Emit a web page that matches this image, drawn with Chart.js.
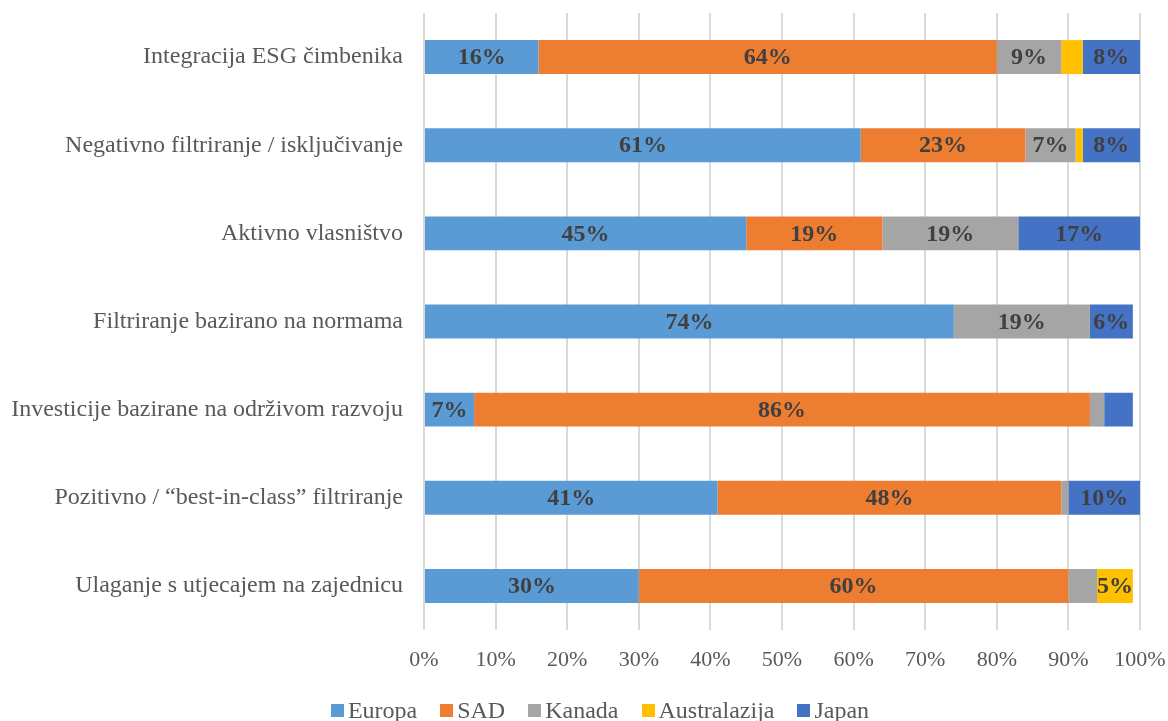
<!DOCTYPE html>
<html>
<head>
<meta charset="utf-8">
<script src="https://cdn.jsdelivr.net/npm/chart.js@4/dist/chart.umd.min.js"></script>
<style>
  html, body { margin: 0; padding: 0; background: #fff; overflow: hidden; }
  #wrap { position: relative; width: 1168px; height: 721px; }
  #legend { position: absolute; left: 16px; top: 697px; width: 1168px; display: flex; justify-content: center;
            font-family: 'Liberation Serif', 'Times New Roman', serif; font-size: 24px; line-height: 26px; color: #595959; }
  #legend .item { display: flex; align-items: center; margin: 0 11.5px; white-space: nowrap; }
  #legend .box { width: 13px; height: 13px; margin-right: 4px; }
</style>
</head>
<body>
<div id="wrap"><canvas id="c"></canvas><div id="legend"></div></div>
<script>
const categories = [
  "Integracija ESG čimbenika",
  "Negativno filtriranje / isključivanje",
  "Aktivno vlasništvo",
  "Filtriranje bazirano na normama",
  "Investicije bazirane na održivom razvoju",
  "Pozitivno / “best-in-class” filtriranje",
  "Ulaganje s utjecajem na zajednicu"
];
const europa       = [16, 61, 45, 74, 7, 41, 30];
const sad          = [64, 23, 19, null, 86, 48, 60];
const kanada       = [9, 7, 19, 19, 2, 1, 4];
const australazija = [3, 1, null, null, null, null, 5];
const japan        = [8, 8, 17, 6, 4, 10, null];
const seriesNames  = ["Europa", "SAD", "Kanada", "Australazija", "Japan"];
const tickValues   = [0, 10, 20, 30, 40, 50, 60, 70, 80, 90, 100];

const colors = ["#5B9BD5", "#ED7D31", "#A5A5A5", "#FFC000", "#4472C4"];
const seriesData = [europa, sad, kanada, australazija, japan];
const FONT = "'Liberation Serif', 'Times New Roman', serif";

const labelPlugin = {
  id: 'segLabels',
  afterDatasetsDraw(chart) {
    const ctx = chart.ctx;
    ctx.save();
    ctx.font = "bold 24px " + FONT;
    ctx.fillStyle = "#404040";
    ctx.textAlign = "center";
    ctx.textBaseline = "middle";
    chart.data.datasets.forEach((ds, di) => {
      const meta = chart.getDatasetMeta(di);
      meta.data.forEach((bar, i) => {
        const v = ds.data[i];
        if (v == null || v < 5) return;
        const x = (bar.x + bar.base) / 2;
        ctx.fillText(v + "%", x, bar.y + 1);
      });
    });
    ctx.restore();
  }
};

const chart = new Chart(document.getElementById('c'), {
  type: 'bar',
  data: {
    labels: categories,
    datasets: seriesNames.map((n, k) => ({
      label: n,
      data: seriesData[k],
      backgroundColor: colors[k],
      borderWidth: 0,
      categoryPercentage: 1,
      barPercentage: 0.385
    }))
  },
  options: {
    indexAxis: 'y',
    responsive: true,
    maintainAspectRatio: false,
    animation: false,
    layout: { padding: { top: 13, right: 28, left: 0, bottom: 41 } },
    plugins: {
      legend: { display: false },
      tooltip: { enabled: false }
    },
    scales: {
      x: {
        stacked: true,
        min: 0, max: 100,
        afterBuildTicks: s => { s.ticks = tickValues.map(v => ({ value: v })); },
        afterFit: s => { s.height = 50; s.paddingLeft = 0; s.paddingRight = 0; },
        grid: { color: "#D9D9D9", drawTicks: false, lineWidth: 2 },
        border: { display: false },
        ticks: {
          padding: 17,
          color: "#595959",
          maxRotation: 0,
          font: { family: FONT, size: 22 },
          callback: v => v + "%"
        }
      },
      y: {
        stacked: true,
        afterFit: s => { s.width = 424; s.paddingTop = 0; s.paddingBottom = 0; },
        grid: { display: false, drawTicks: false },
        border: { display: false },
        ticks: {
          padding: 21,
          color: "#595959",
          font: { family: FONT, size: 24 }
        }
      }
    }
  },
  plugins: [labelPlugin]
});

// HTML legend built from the chart's datasets
const legendEl = document.getElementById('legend');
chart.data.datasets.forEach(ds => {
  const item = document.createElement('div');
  item.className = 'item';
  const box = document.createElement('span');
  box.className = 'box';
  box.style.background = ds.backgroundColor;
  const txt = document.createElement('span');
  txt.textContent = ds.label;
  item.appendChild(box);
  item.appendChild(txt);
  legendEl.appendChild(item);
});
</script>
</body>
</html>
